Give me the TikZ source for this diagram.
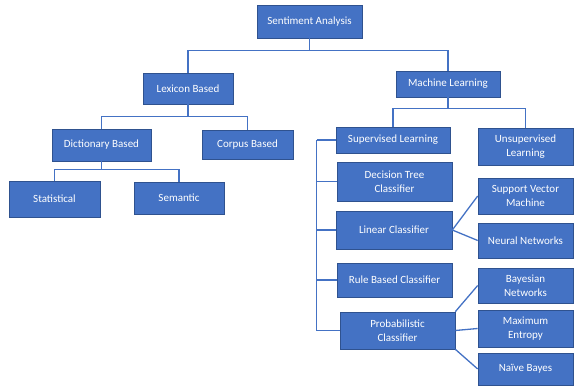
\documentclass[tikz,border=0pt]{standalone}
\usepackage{fontspec}
\setmainfont{Carlito}
\usepackage{xcolor}
\usetikzlibrary{positioning}
\definecolor{boxblue}{HTML}{4472C4}
\definecolor{boxedge}{HTML}{2F528F}
\tikzset{
  caja/.style={rectangle,draw=boxedge,line width=0.6pt,fill=boxblue,text=white,
    align=center,inner sep=1pt,font=\fontsize{11}{14}\selectfont},
  rama/.style={draw=boxblue,line width=1.3pt}
}

\begin{document}
\begin{tikzpicture}[x=1pt,y=-1pt]
\useasboundingbox (0,0) rectangle (574,387);
\node[caja,minimum width=105,minimum height=33] (sa) at (309.5,21.5){Sentiment Analysis};
  \node[caja,minimum width=90,minimum height=31] (lb) at (188,88.5){Lexicon Based};
  \node[caja,minimum width=104,minimum height=26] (ml) at (448,84){Machine Learning};
    \draw[rama] (sa.south) -- ++(0,12) -| (lb.north);
    \draw[rama] (sa.south) -- ++(0,12) -| (ml.north);
 \node[caja,minimum width=99,minimum height=32] (db) at (101.5,145){Dictionary Based};
 \node[caja,minimum width=91,minimum height=29] (cb) at (247.5,144.5){Corpus Based};
    \draw[rama] (lb.south) -- ++(0,12) -| (db.north);
    \draw[rama] (lb.south) -- ++(0,12) -| (cb.north);
   \node[caja,minimum width=91,minimum height=36] (st) at (54.5,199){Statistical};
   \node[caja,minimum width=90,minimum height=32] (se) at (179,198){Semantic};
    \draw[rama] (db.south) -- ++(0,8) -| (st.north);
    \draw[rama] (db.south) -- ++(0,8) -| (se.north);
 \node[caja,minimum width=114,minimum height=26] (sl) at (393,140){Supervised Learning};
 \node[caja,minimum width=95,minimum height=37] (ul) at (525.5,146.5){Unsupervised\\Learning};
    \draw[rama] (ml.south) -- ++(0,11) -| (sl.north);
    \draw[rama] (ml.south) -- ++(0,11) -| (ul.north);
  \node[caja,minimum width=115,minimum height=39] (dt) at (394.5,181.5){Decision Tree\\Classifier};
  \node[caja,minimum width=116,minimum height=38] (lc) at (394,230){Linear Classifier};
  \node[caja,minimum width=115,minimum height=34] (rb) at (394.5,280){Rule Based Classifier};
  \node[caja,minimum width=115,minimum height=37] (pc) at (397.5,330.5){Probabilistic\\Classifier};
    \draw[rama] (sl.west) -- ++(-19,0) coordinate (rail);
    \draw[rama] (rail) |- (pc.west);
    \draw[rama] (dt.west) -- (dt.west -| rail);
    \draw[rama] (lc.west) -- (lc.west -| rail);
    \draw[rama] (rb.west) -- (rb.west -| rail);
   \node[caja,minimum width=95,minimum height=36] (svm) at (525.5,196){Support Vector\\Machine};
   \node[caja,minimum width=95,minimum height=35] (nn) at (525.5,240.5){Neural Networks};
    \draw[rama] (lc.east) -- (svm.west);
    \draw[rama] (lc.east) -- (nn.west);
   \node[caja,minimum width=95,minimum height=35] (bn) at (525.5,285.5){Bayesian\\Networks};
   \node[caja,minimum width=95,minimum height=37] (me) at (525.5,328.5){Maximum\\Entropy};
   \node[caja,minimum width=95,minimum height=32] (nb) at (525.5,369){Na\"ive Bayes};
    \draw[rama] (pc.north east) -- (bn.west);
    \draw[rama] (pc.east) -- (me.west);
    \draw[rama] (pc.south east) -- (nb.west);

\end{tikzpicture}
\end{document}
